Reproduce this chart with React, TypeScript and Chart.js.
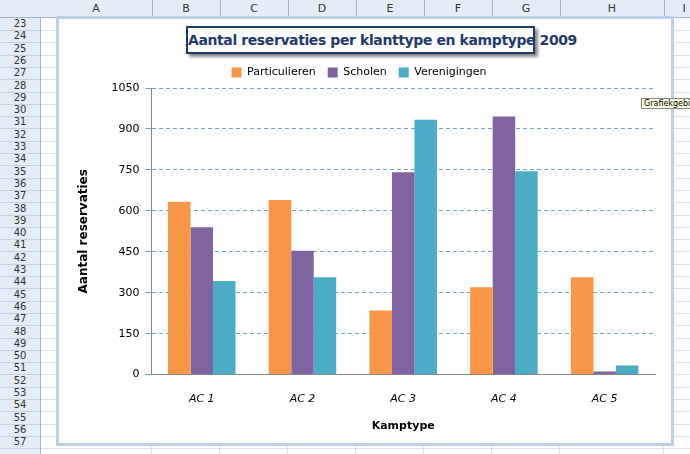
import { useEffect, useRef } from "react"
import { Chart, registerables } from "chart.js"

Chart.register(...registerables)

const categories = ["AC 1", "AC 2", "AC 3", "AC 4", "AC 5"]
const particulieren = [633, 640, 235, 320, 357]
const scholen = [540, 454, 741, 946, 11]
const verenigingen = [343, 357, 934, 745, 33]
const yTicks = [0, 150, 300, 450, 600, 750, 900, 1050]

const columns = [
  { name: "A", left: 40, width: 112 },
  { name: "B", left: 152, width: 68 },
  { name: "C", left: 220, width: 68 },
  { name: "D", left: 288, width: 68 },
  { name: "E", left: 356, width: 68 },
  { name: "F", left: 424, width: 68 },
  { name: "G", left: 492, width: 68 },
  { name: "H", left: 560, width: 104 },
  { name: "I", left: 664, width: 40 },
]
const rows = Array.from({ length: 35 }, (_, i) => 23 + i)

const font = "'DejaVu Sans', sans-serif"

export default function App() {
  const canvasRef = useRef<HTMLCanvasElement>(null)
  const chartRef = useRef<Chart | null>(null)

  useEffect(() => {
    if (!canvasRef.current) return
    if (chartRef.current) chartRef.current.destroy()
    const ctx = canvasRef.current.getContext("2d")
    if (!ctx) return

    chartRef.current = new Chart(ctx, {
      type: "bar",
      data: {
        labels: categories,
        datasets: [
          { label: "Particulieren", data: particulieren, backgroundColor: "#F79646" },
          { label: "Scholen", data: scholen, backgroundColor: "#8064A2" },
          { label: "Verenigingen", data: verenigingen, backgroundColor: "#4BACC6" },
        ],
      },
      options: {
        responsive: false,
        animation: false,
        layout: { padding: { top: 0, right: 12, left: 2, bottom: 4 } },
        datasets: { bar: { categoryPercentage: 0.67, barPercentage: 1 } },
        plugins: {
          tooltip: { enabled: false },
          legend: {
            position: "top",
            labels: {
              boxWidth: 10,
              boxHeight: 10,
              font: { family: font, size: 11 },
              color: "#000",
              padding: 12,
            },
          },
        },
        scales: {
          x: {
            grid: { display: false },
            border: { color: "#888" },
            ticks: { font: { family: font, size: 11, style: "italic" }, color: "#000", padding: 10 },
            title: { display: true, text: "Kamptype", font: { family: font, size: 11, weight: "bold" }, color: "#000" },
          },
          y: {
            min: 0,
            max: 1050,
            afterBuildTicks: (axis) => {
              axis.ticks = yTicks.map((v) => ({ value: v }))
            },
            grid: { color: "#6aa9b8", tickLength: 6 },
            border: { color: "#888", dash: [4, 3] },
            ticks: { font: { family: font, size: 11 }, color: "#000", padding: 6, callback: (v) => String(v) },
            title: { display: true, text: "Aantal reservaties", font: { family: font, size: 12, weight: "bold" }, color: "#000", padding: 14 },
          },
        },
      },
    })

    return () => {
      if (chartRef.current) chartRef.current.destroy()
    }
  }, [])

  return (
    <div style={{ position: "fixed", left: 0, top: 0, width: 690, height: 454, background: "#fff", overflow: "hidden", fontFamily: font }}>
      <div style={{ position: "absolute", left: 0, top: 0, width: 690, height: 17, background: "#e4ecf7", borderBottom: "1px solid #9eb6ce" }} />
      {columns.map((c) => (
        <div key={c.name} style={{ position: "absolute", left: c.left, top: 0, width: c.width, height: 17, borderRight: "1px solid #9eb6ce", fontSize: 11, textAlign: "center", lineHeight: "17px", color: "#333" }}>
          {c.name}
        </div>
      ))}
      <div style={{ position: "absolute", left: 0, top: 18, width: 40, height: 440, background: "#e4ecf7", borderRight: "1px solid #9eb6ce" }} />
      {rows.map((r, i) => (
        <div key={r}>
          <div style={{ position: "absolute", left: 0, top: 18 + i * 12.3, width: 40, height: 12, borderBottom: "1px solid #c5d3e3", fontSize: 10, textAlign: "center", lineHeight: "12px", color: "#333" }}>{r}</div>
          <div style={{ position: "absolute", left: 41, top: 18 + i * 12.3, width: 650, height: 12, borderBottom: "1px solid #dde3ea" }} />
        </div>
      ))}
      {columns.map((c) => (
        <div key={"l" + c.name} style={{ position: "absolute", left: c.left + c.width - 1, top: 18, width: 1, height: 440, background: "#dde3ea" }} />
      ))}
      <div style={{ position: "absolute", left: 56, top: 16, width: 612, height: 424, border: "3px solid #b9d0e6", background: "#fff" }}>
        <div style={{ position: "absolute", left: 127, top: 7, width: 345, height: 24, border: "2px solid #1f3a6e", boxShadow: "3px 3px 3px #888", textAlign: "center", lineHeight: "24px", fontSize: 14, fontWeight: "bold", color: "#1f3a6e", background: "#fff", whiteSpace: "nowrap", letterSpacing: -0.4 }}>
          Aantal reservaties per klanttype en kamptype 2009
        </div>
        <canvas ref={canvasRef} width={606} height={386} style={{ position: "absolute", left: 2, top: 36 }} />
      </div>
      <div style={{ position: "absolute", left: 641, top: 98, fontSize: 8, border: "1px solid #888", background: "#ffffe1", padding: "0 2px", whiteSpace: "nowrap" }}>Grafiekgebied</div>
    </div>
  )
}
